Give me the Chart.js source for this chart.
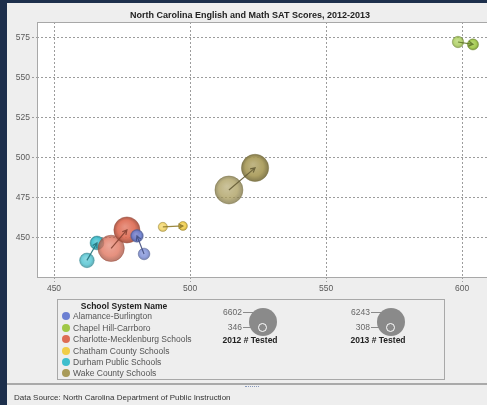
<!DOCTYPE html>
<html>
<head>
<meta charset="utf-8">
<script src="https://cdn.jsdelivr.net/npm/chart.js@4.4.0/dist/chart.umd.min.js"></script>
<style>
body { margin: 0; width: 487px; height: 405px; overflow: hidden; position: relative; background: #1d2f4c; font-family: "Liberation Sans", Arial, sans-serif; }
#panel { position: absolute; left: 7px; top: 3px; width: 500px; height: 402px; background: #eeeeee; }
#title { position: absolute; left: 0; top: 7px; width: 486px; text-align: center; font-weight: bold; font-size: 9px; line-height: 10px; color: #222; }
#wrap { position: absolute; left: 0; top: 0; width: 493px; height: 297px; }
#legend { position: absolute; left: 50px; top: 296px; width: 388px; height: 81px; box-sizing: border-box; border: 1px solid #a8a8a8; font-size: 8.5px; color: #555; }
#legend .hdr { position: absolute; left: 0; width: 132px; top: 1px; text-align: center; font-weight: bold; color: #222; line-height: 11px; }
#legend .row { position: absolute; left: 15px; line-height: 11px; white-space: nowrap; }
#legend .dot { position: absolute; left: -11px; top: 1.5px; width: 8px; height: 8px; border-radius: 50%; }
.size { position: absolute; top: 0; width: 120px; height: 60px; }
.size .big { position: absolute; left: 52px; top: 8px; width: 28px; height: 28px; border-radius: 50%; background: #8a8a8a; }
.size .small { position: absolute; left: 61px; top: 22.5px; width: 7px; height: 7px; border-radius: 50%; border: 1.5px solid #fff; background: #8a8a8a; }
.size .lab { position: absolute; left: 5px; width: 40px; text-align: right; line-height: 10px; color: #666; }
.size .ln { position: absolute; height: 1px; background: #8a8a8a; }
.size .cap { position: absolute; left: 0; width: 106px; top: 35px; text-align: center; font-weight: bold; color: #222; line-height: 10px; }
#sep { position: absolute; left: 0; top: 380px; width: 500px; height: 2px; background: #a9a9a9; }
#grip { position: absolute; left: 238px; top: 383px; width: 14px; height: 1px; border-top: 1px dotted #8899bb; }
#source { position: absolute; left: 7px; top: 390px; font-size: 8px; line-height: 10px; color: #333; }
</style>
</head>
<body>
<div id="panel">
  <div id="wrap"><canvas id="satChart" width="493" height="297"></canvas></div>
  <div id="title">North Carolina English and Math SAT Scores, 2012-2013</div>
  <div id="legend"></div>
  <div id="sep"></div>
  <div id="grip"></div>
  <div id="source">Data Source: North Carolina Department of Public Instruction</div>
</div>
<script>
/******************* NC SAT scores, 2012 -> 2013 ***********************/
const schools = ['Alamance-Burlington', 'Chapel Hill-Carrboro', 'Charlotte-Mecklenburg Schools',
                 'Chatham County Schools', 'Durham Public Schools', 'Wake County Schools'];
const schoolColors = [[108, 128, 210], [160, 200, 70], [222, 108, 84],
                      [240, 205, 72], [62, 190, 205], [168, 154, 88]];

const x2012 = [483.1, 598.5, 471.0, 490.0, 462.1, 514.3];
const y2012 = [440.0, 572.5, 443.5, 456.9, 436.0, 480.0];
const tested2012 = [800, 750, 5800, 346, 1500, 6602];

const x2013 = [480.5, 604.0, 476.8, 497.4, 465.8, 523.9];
const y2013 = [451.3, 571.0, 455.0, 457.5, 446.9, 493.8];
const tested2013 = [1000, 700, 5700, 308, 1300, 6243];

const xTicks = [450, 500, 550, 600];
const yTicks = [450, 475, 500, 525, 550, 575];

// bubble size: area grows with number tested
const MIN_TESTED = 300, MAX_TESTED = 6602;
function radiusFor(n) {
    return Math.sqrt(20 + 176 * (n - MIN_TESTED) / (MAX_TESTED - MIN_TESTED));
}

function rgba(c, a, k) {
    k = k || 1;
    const f = v => Math.max(0, Math.min(255, Math.round(k >= 1 ? v + (255 - v) * (k - 1) : v * k)));
    return 'rgba(' + f(c[0]) + ',' + f(c[1]) + ',' + f(c[2]) + ',' + a + ')';
}

function shade(ctx) {
    const chart = ctx.chart;
    const raw = ctx.raw;
    const c = schoolColors[ctx.datasetIndex];
    const a = ctx.dataIndex === 0 ? 0.75 : 0.92;
    if (!raw || !chart.chartArea) return rgba(c, a);
    const px = chart.scales.x.getPixelForValue(raw.x);
    const py = chart.scales.y.getPixelForValue(raw.y);
    const g = chart.ctx.createRadialGradient(px - raw.r * 0.15, py - raw.r * 0.25, raw.r * 0.05, px, py, raw.r);
    g.addColorStop(0, rgba(c, a, 1.2));
    g.addColorStop(0.65, rgba(c, a, 1));
    g.addColorStop(1, rgba(c, a, 0.72));
    return g;
}

const datasets = schools.map((name, i) => ({
    label: name,
    data: [
        {x: x2012[i], y: y2012[i], r: radiusFor(tested2012[i])},
        {x: x2013[i], y: y2013[i], r: radiusFor(tested2013[i])}
    ],
    backgroundColor: shade,
    borderColor: rgba(schoolColors[i], 0.45, 0.7),
    borderWidth: 1
}));

// white plot area + grey frame
const plotFrame = {
    id: 'plotFrame',
    beforeDraw(chart) {
        const {ctx, chartArea: a} = chart;
        ctx.save();
        ctx.fillStyle = '#ffffff';
        ctx.fillRect(a.left, a.top, a.right - a.left, a.bottom - a.top);
        ctx.restore();
    },
    beforeDatasetsDraw(chart) {
        const {ctx, chartArea: a} = chart;
        ctx.save();
        ctx.strokeStyle = '#a8a8a8';
        ctx.lineWidth = 1;
        ctx.strokeRect(Math.round(a.left) + 0.5, Math.round(a.top) + 0.5, a.right - a.left, a.bottom - a.top);
        ctx.restore();
    }
};

// arrow from the 2012 bubble to the 2013 bubble
const arrows = {
    id: 'arrows',
    afterDatasetsDraw(chart) {
        const {ctx, scales: {x, y}} = chart;
        ctx.save();
        ctx.lineWidth = 1.2;
        schools.forEach((s, i) => {
            const x0 = x.getPixelForValue(x2012[i]), y0 = y.getPixelForValue(y2012[i]);
            const x1 = x.getPixelForValue(x2013[i]), y1 = y.getPixelForValue(y2013[i]);
            const ang = Math.atan2(y1 - y0, x1 - x0);
            const head = 5;
            ctx.strokeStyle = rgba(schoolColors[i], 0.9, 0.6);
            ctx.beginPath();
            ctx.moveTo(x0, y0);
            ctx.lineTo(x1, y1);
            ctx.moveTo(x1 - head * Math.cos(ang - 0.5), y1 - head * Math.sin(ang - 0.5));
            ctx.lineTo(x1, y1);
            ctx.lineTo(x1 - head * Math.cos(ang + 0.5), y1 - head * Math.sin(ang + 0.5));
            ctx.stroke();
        });
        ctx.restore();
    }
};

const TICK_FONT = {family: '"Liberation Sans", Arial, sans-serif', size: 8.5};
const gridCfg = {color: '#9c9c9c', tickColor: '#9c9c9c', tickLength: 5, tickBorderDash: [2, 2]};

const config = {
    type: 'bubble',
    data: {datasets: datasets},
    options: {
        responsive: false,
        animation: false,
        layout: {autoPadding: false, padding: {top: 19, right: 5, left: 0, bottom: 0}},
        plugins: {
            legend: {display: false},
            tooltip: {enabled: false}
        },
        scales: {
            x: {
                type: 'linear',
                min: 443.75,
                max: 612.1,
                afterBuildTicks: s => { s.ticks = xTicks.map(v => ({value: v})); },
                afterFit: s => { s.height = 23; },
                grid: gridCfg,
                border: {display: false, dash: [2, 2]},
                ticks: {font: TICK_FONT, color: '#5a5a5a', padding: 2, maxRotation: 0}
            },
            y: {
                type: 'linear',
                min: 425.6,
                max: 585,
                afterBuildTicks: s => { s.ticks = yTicks.map(v => ({value: v})); },
                afterFit: s => { s.width = 30; },
                grid: gridCfg,
                border: {display: false, dash: [2, 2]},
                ticks: {font: TICK_FONT, color: '#5a5a5a', padding: 2}
            }
        }
    },
    plugins: [plotFrame, arrows]
};

const satChart = new Chart(document.getElementById('satChart'), config);

/******************* Legend ***********************/
const legend = document.getElementById('legend');
let html = '<div class="hdr">School System Name</div>';
const rowCenters = [17, 29, 40, 52, 63, 74];
schools.forEach((s, i) => {
    html += '<div class="row" style="top:' + (rowCenters[i] - 6.5) + 'px">' +
            '<span class="dot" style="background:' + rgba(schoolColors[i], 1) + '"></span>' + s + '</div>';
});

function sizeBlock(left, maxN, minN, year) {
    return '<div class="size" style="left:' + left + 'px">' +
        '<div class="big"></div><div class="small"></div>' +
        '<div class="lab" style="top:7px">' + maxN + '</div>' +
        '<div class="ln" style="left:46px;top:12px;width:10px"></div>' +
        '<div class="lab" style="top:22px">' + minN + '</div>' +
        '<div class="ln" style="left:46px;top:27px;width:15px"></div>' +
        '<div class="cap">' + year + ' # Tested</div></div>';
}
html += sizeBlock(139, MAX_TESTED, 346, 2012);
html += sizeBlock(267, 6243, MIN_TESTED + 8, 2013);
legend.innerHTML = html;
</script>
</body>
</html>
